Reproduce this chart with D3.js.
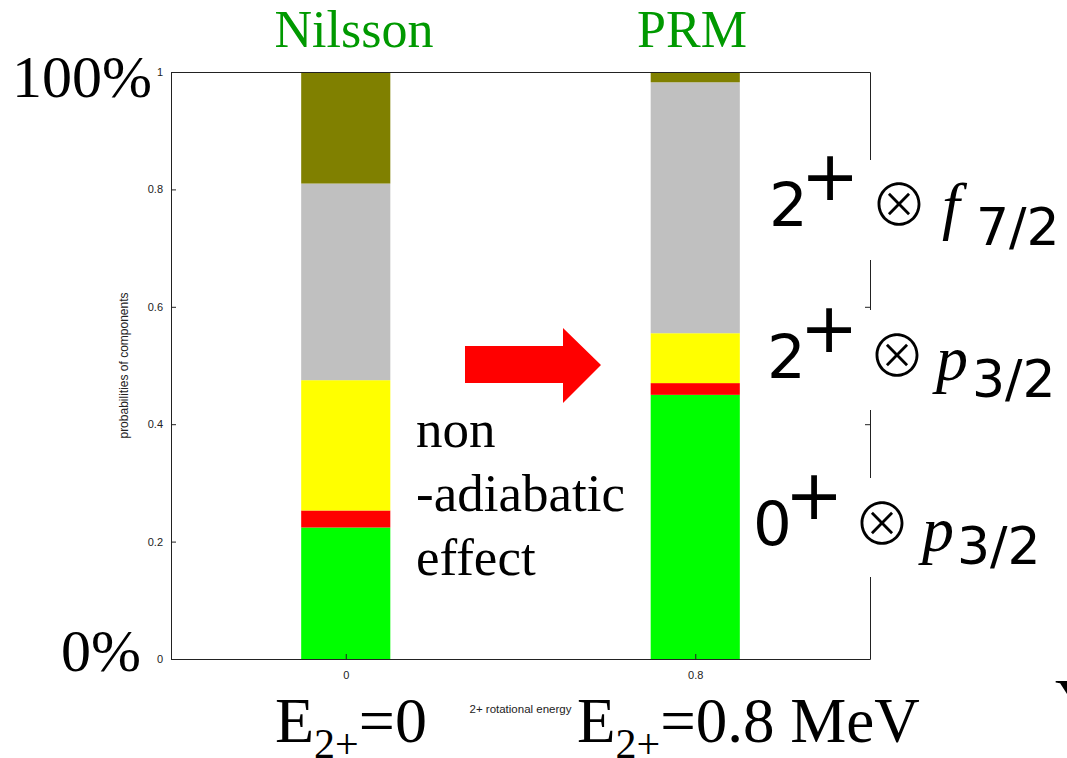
<!DOCTYPE html>
<html>
<head>
<meta charset="utf-8">
<script src="https://cdn.jsdelivr.net/npm/d3@7"></script>
<style>
    body { margin: 0; background: #fff; }
    svg { display: block; }
</style>
</head>
<body>
<svg id="chart"></svg>
<script>
// 2+ rotational energy (MeV) of the two calculations
const energies = [0, 0.8];
const modelNames = ["Nilsson", "PRM"];

// probability of each component, stacked from bottom to top
const comp0p32 = [0.224, 0.450];   // 0+ x p3/2 (green)
const compRed = [0.029, 0.020];    // small red component
const comp2p32 = [0.222, 0.085];   // 2+ x p3/2 (yellow)
const comp2f72 = [0.335, 0.4275];  // 2+ x f7/2 (gray)
const compRest = [0.190, 0.0175];  // remaining (olive)

const yTicks = [0, 0.2, 0.4, 0.6, 0.8, 1];
const xTicks = [0, 0.8];

const config = {
    width: 1067, height: 758,
    left: 171, right: 870, top: 72, bottom: 659,
    barWidth: 0.204, // in x units
    colors: ["#00ff00", "#ff0000", "#ffff00", "#c0c0c0", "#808000"],
    sans: "'Liberation Sans', Arial, sans-serif",
    serif: "'Liberation Serif', 'Times New Roman', serif",
    dejavu: "'DejaVu Sans', sans-serif",
    otimes: "'Noto Sans CJK JP', 'DejaVu Sans', sans-serif"
};

const svg = d3.select("#chart")
    .attr("width", config.width)
    .attr("height", config.height);

const x = d3.scaleLinear().domain([-0.4, 1.2]).range([config.left, config.right]);
const y = d3.scaleLinear().domain([0, 1]).range([config.bottom, config.top]);

// build table for the stack
const keys = ["c0", "c1", "c2", "c3", "c4"];
const series = [comp0p32, compRed, comp2p32, comp2f72, compRest];
const table = energies.map((e, i) => {
    const row = { energy: e };
    keys.forEach((k, j) => row[k] = series[j][i]);
    return row;
});
const stacked = d3.stack().keys(keys)(table);

// bars
svg.append("g")
    .selectAll("g")
    .data(stacked)
    .join("g")
    .attr("fill", (d, i) => config.colors[i])
    .selectAll("rect")
    .data(d => d)
    .join("rect")
    .attr("x", d => x(d.data.energy - config.barWidth / 2))
    .attr("width", d => x(config.barWidth) - x(0))
    .attr("y", d => y(d[1]))
    .attr("height", d => y(d[0]) - y(d[1]));

// axes (matlab style box, ticks inside)
const fmt = d3.format("~g");
const axisStyle = g => g
    .call(g => g.selectAll("text").attr("font-family", config.sans).attr("font-size", 11).attr("fill", "#222"))
    .call(g => g.selectAll("line, path").attr("stroke", "#222"));

svg.append("g")
    .attr("transform", `translate(${config.left},0)`)
    .call(d3.axisLeft(y).tickValues(yTicks).tickFormat(fmt).tickSize(-5).tickPadding(8).tickSizeOuter(0))
    .call(axisStyle);

svg.append("g")
    .attr("transform", `translate(${config.right},0)`)
    .call(d3.axisRight(y).tickValues(yTicks).tickFormat("").tickSize(-5).tickSizeOuter(0))
    .call(axisStyle);

svg.append("g")
    .attr("transform", `translate(0,${config.bottom})`)
    .call(d3.axisBottom(x).tickValues(xTicks).tickFormat(fmt).tickSize(-5).tickPadding(12).tickSizeOuter(0))
    .call(axisStyle);

svg.append("g")
    .attr("transform", `translate(0,${config.top})`)
    .call(d3.axisTop(x).tickValues([]).tickSizeOuter(0))
    .call(axisStyle);

// axis titles
svg.append("text")
    .attr("transform", `translate(128,${(config.top + config.bottom) / 2}) rotate(-90)`)
    .attr("text-anchor", "middle")
    .attr("font-family", config.sans).attr("font-size", 12).attr("fill", "#222")
    .text("probabilities of components");

svg.append("text")
    .attr("x", (config.left + config.right) / 2).attr("y", 713)
    .attr("text-anchor", "middle")
    .attr("font-family", config.sans).attr("font-size", 11.5).attr("fill", "#222")
    .text("2+ rotational energy");

// model titles
const titleX = [354, 692];
svg.append("g")
    .selectAll("text")
    .data(modelNames)
    .join("text")
    .attr("x", (d, i) => titleX[i]).attr("y", 47)
    .attr("text-anchor", "middle")
    .attr("font-family", config.serif).attr("font-size", 52).attr("fill", "#009900")
    .text(d => d);

// 100% / 0%
svg.append("text").attr("x", 12).attr("y", 97)
    .attr("font-family", config.serif).attr("font-size", 60).text("100%");
svg.append("text").attr("x", 61).attr("y", 671)
    .attr("font-family", config.serif).attr("font-size", 60).text("0%");

// E2+ labels under the bars
const eLabels = [{ x: 275, v: "=0", size: 64 }, { x: 577, v: "=0.8 MeV", size: 63 }];
eLabels.forEach(l => {
    const t = svg.append("text").attr("x", l.x).attr("y", 742)
        .attr("font-family", config.serif).attr("font-size", l.size);
    t.append("tspan").text("E");
    t.append("tspan").attr("dy", 16).attr("font-size", 42).text("2+");
    t.append("tspan").attr("dy", -16).text(l.v);
});

// non-adiabatic effect
["non", "-adiabatic", "effect"].forEach((s, i) => {
    svg.append("text").attr("x", 416).attr("y", 447 + i * 64)
        .attr("font-family", config.serif).attr("font-size", 53).text(s);
});

// red arrow
const arrow = [[465, 346], [563, 346], [563, 328], [601, 365], [563, 403], [563, 383], [465, 383]];
svg.append("path")
    .attr("d", d3.line()(arrow) + "Z")
    .attr("fill", "#ff0000");

// component labels on the right, white boxes hide the right axis
const compLabels = [
    { base: "2", letter: "f", sub: "7/2", box: [160, 260], bx: 769, by: 226, px: 830, py: 200, ox: 899, oy: 206, lx: 942, ly: 227, sx: 976, sy: 245 },
    { base: "2", letter: "p", sub: "3/2", box: [310, 410], bx: 767, by: 378, px: 829, py: 352, ox: 897, oy: 357, lx: 936, ly: 380, sx: 972, sy: 397 },
    { base: "0", letter: "p", sub: "3/2", box: [478, 577], bx: 753, by: 545, px: 814, py: 519, ox: 882, oy: 525, lx: 922, ly: 551, sx: 957, sy: 564 }
];
compLabels.forEach(c => {
    const g = svg.append("g");
    g.append("rect").attr("x", 752).attr("y", c.box[0])
        .attr("width", config.width - 752).attr("height", c.box[1] - c.box[0])
        .attr("fill", "#fff");
    // one text per label, parts placed with tspans
    const t = g.append("text").attr("font-family", config.dejavu);
    t.append("tspan").attr("x", c.bx).attr("y", c.by)
        .attr("font-size", 61).text(c.base);
    t.append("tspan").attr("x", c.px).attr("y", c.py).attr("text-anchor", "middle")
        .attr("font-size", 70).text("+");
    t.append("tspan").attr("x", c.ox).attr("y", c.oy + 20).attr("text-anchor", "middle")
        .attr("font-family", config.otimes).attr("font-weight", 300).attr("font-size", 58).text("\u2297");
    t.append("tspan").attr("x", c.lx).attr("y", c.ly)
        .attr("font-family", config.serif).attr("font-style", "italic").attr("font-size", 64).text(c.letter);
    t.append("tspan").attr("x", c.sx).attr("y", c.sy)
        .attr("font-size", 52).text(c.sub);
});

// cut-off text at the right edge
svg.append("text").attr("x", 1055).attr("y", 720)
    .attr("font-family", config.serif).attr("font-size", 60).text("Y");
</script>
</body>
</html>
